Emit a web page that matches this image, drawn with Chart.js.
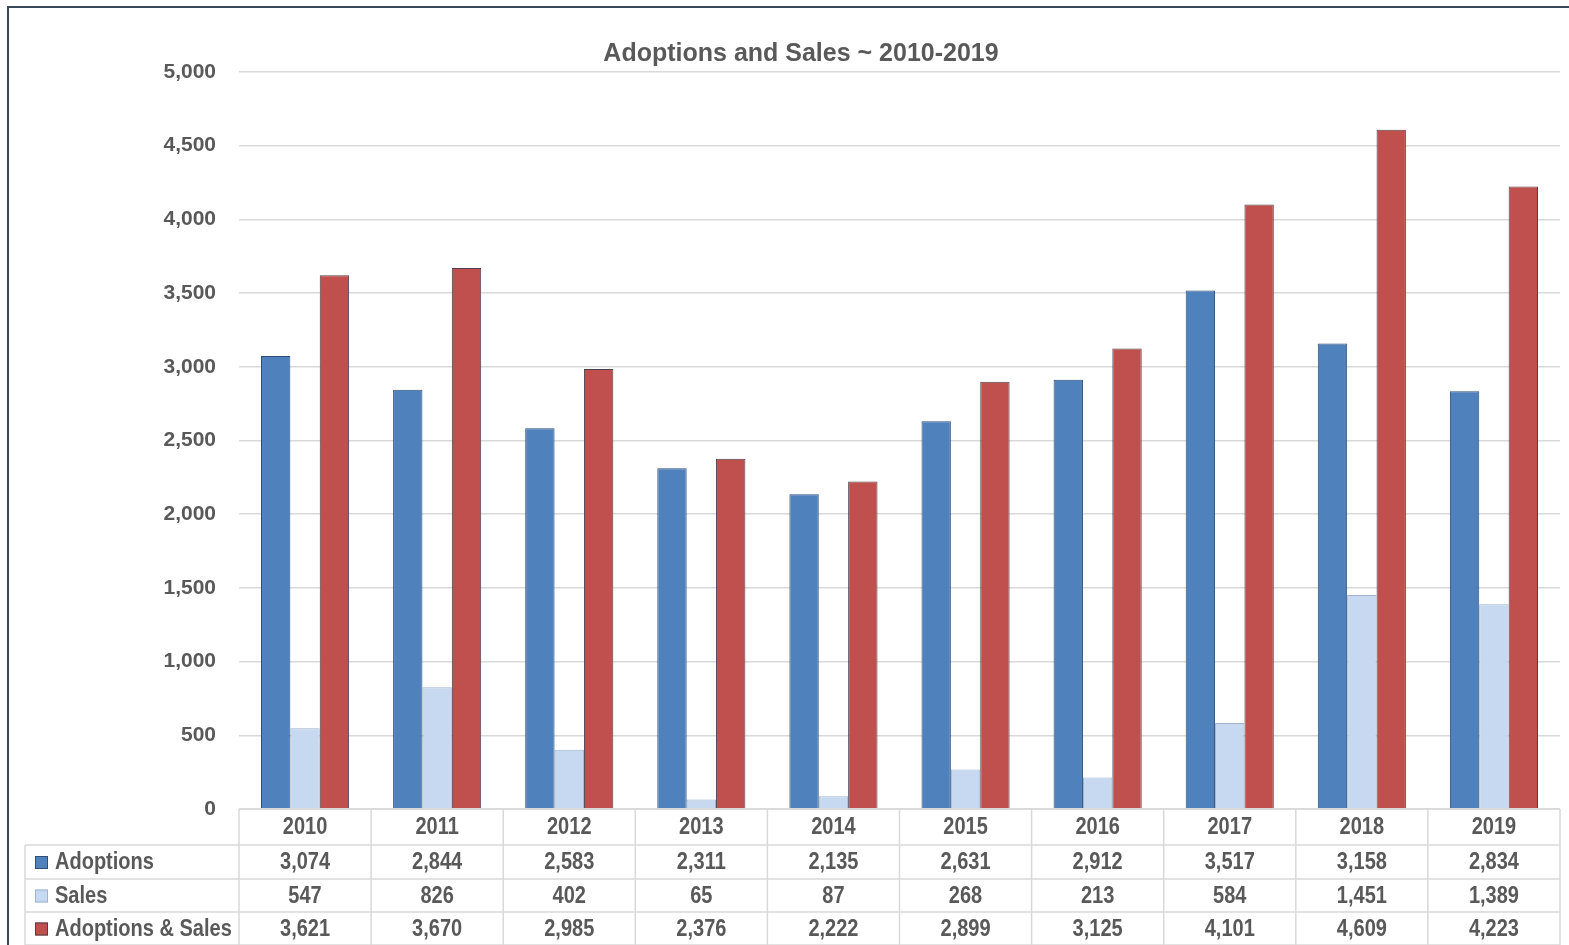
<!DOCTYPE html>
<html>
<head>
<meta charset="utf-8">
<script src="https://cdn.jsdelivr.net/npm/chart.js@4/dist/chart.umd.min.js"></script>
<style>
    html, body { margin: 0; padding: 0; background: #fff; overflow: hidden; }
    #frame { position: absolute; left: 7px; top: 6px; width: 1580px; height: 960px; border: 2px solid #3b4a5a; box-sizing: border-box; }
    #wrap { position: absolute; left: 0; top: 0; width: 1569px; height: 945px; }
</style>
</head>
<body>
<div id="frame"></div>
<div id="wrap"><canvas id="chart" width="1569" height="945"></canvas></div>
<script>
const years = ["2010", "2011", "2012", "2013", "2014", "2015", "2016", "2017", "2018", "2019"];
const adoptions = [3074, 2844, 2583, 2311, 2135, 2631, 2912, 3517, 3158, 2834];
const sales = [547, 826, 402, 65, 87, 268, 213, 584, 1451, 1389];
const adoptionsAndSales = [3621, 3670, 2985, 2376, 2222, 2899, 3125, 4101, 4609, 4223];
const seriesNames = ["Adoptions", "Sales", "Adoptions & Sales"];

const textColor = "#595959";
const gridColor = "#d9d9d9";
const fontFamily = "'Liberation Sans', Arial, sans-serif";

// draw text squeezed horizontally, the reference uses a narrow face
function narrowText(ctx, text, x, y, align) {
    const squeeze = 0.87;
    ctx.save();
    ctx.translate(x, y);
    ctx.scale(squeeze, 1);
    ctx.textAlign = align;
    ctx.fillText(text, 0, 0);
    ctx.restore();
}

// data table drawn under the plot, lined up with the x scale
const dataTablePlugin = {
    id: "dataTable",
    afterDraw(chart) {
        const ctx = chart.ctx;
        const x = chart.scales.x;
        const area = chart.chartArea;
        const rows = [adoptions, sales, adoptionsAndSales];
        const top = area.bottom;
        const rowEdges = [top, top + 36, top + 70, top + 103, top + 136];
        const labelLeft = 25;
        const step = x.getPixelForValue(1) - x.getPixelForValue(0);

        ctx.save();
        ctx.strokeStyle = gridColor;
        ctx.lineWidth = 1.5;

        // horizontal lines
        ctx.beginPath();
        ctx.moveTo(area.left, rowEdges[0]);
        ctx.lineTo(area.right, rowEdges[0]);
        for (let i = 1; i < rowEdges.length; i++) {
            ctx.moveTo(labelLeft, rowEdges[i]);
            ctx.lineTo(area.right, rowEdges[i]);
        }
        // vertical lines
        for (let i = 0; i <= years.length; i++) {
            const px = x.getPixelForValue(i) - step / 2;
            ctx.moveTo(px, rowEdges[0]);
            ctx.lineTo(px, rowEdges[4]);
        }
        ctx.moveTo(labelLeft, rowEdges[1]);
        ctx.lineTo(labelLeft, rowEdges[4]);
        ctx.stroke();

        ctx.fillStyle = textColor;
        ctx.font = "bold 23px " + fontFamily;
        ctx.textBaseline = "middle";

        // header row with years
        years.forEach((year, i) => {
            narrowText(ctx, year, x.getPixelForValue(i), (rowEdges[0] + rowEdges[1]) / 2 + 1, "center");
        });

        // value rows
        rows.forEach((values, r) => {
            const cy = (rowEdges[r + 1] + rowEdges[r + 2]) / 2 + 1;
            ctx.fillStyle = textColor;
            values.forEach((v, i) => {
                narrowText(ctx, v.toLocaleString("en-US"), x.getPixelForValue(i), cy, "center");
            });
            // legend key + series name
            const ds = chart.data.datasets[r];
            ctx.fillStyle = ds.backgroundColor;
            ctx.fillRect(35, cy - 7, 13, 13);
            ctx.strokeStyle = ds.borderColor;
            ctx.lineWidth = 1;
            ctx.strokeRect(35.5, cy - 6.5, 12, 12);
            ctx.fillStyle = textColor;
            narrowText(ctx, seriesNames[r], 55, cy, "left");
        });
        ctx.restore();
    }
};

new Chart(document.getElementById("chart"), {
    type: "bar",
    data: {
        labels: years,
        datasets: [
            {
                label: seriesNames[0],
                data: adoptions,
                backgroundColor: "#4f81bd",
                borderColor: "#2f4d75",
                borderWidth: 1,
            },
            {
                label: seriesNames[1],
                data: sales,
                backgroundColor: "#c6d9f1",
                borderColor: "#9fb3cc",
                borderWidth: 1,
            },
            {
                label: seriesNames[2],
                data: adoptionsAndSales,
                backgroundColor: "#c0504d",
                borderColor: "#4e3f4e",
                borderWidth: 1,
            },
        ],
    },
    options: {
        responsive: false,
        animation: false,
        layout: {
            // left padding pushes the title centre right, like the reference
            padding: { left: 42, right: 9, top: 0, bottom: 136 },
        },
        datasets: {
            bar: {
                barPercentage: 1,
                categoryPercentage: 0.667,
            },
        },
        plugins: {
            legend: { display: false },
            tooltip: { enabled: false },
            title: {
                display: true,
                text: "Adoptions and Sales ~ 2010-2019",
                color: textColor,
                font: { family: fontFamily, size: 25, weight: "bold" },
                padding: { top: 39, bottom: 3 },
            },
        },
        scales: {
            x: {
                display: false,
            },
            y: {
                min: 0,
                max: 5000,
                afterFit: function (scale) {
                    scale.width = 197;
                },
                border: { display: false },
                grid: {
                    color: gridColor,
                    lineWidth: 1.5,
                    drawTicks: false,
                },
                ticks: {
                    stepSize: 500,
                    padding: 23,
                    color: textColor,
                    font: { family: fontFamily, size: 21, weight: "bold" },
                    callback: function (value) {
                        return value.toLocaleString("en-US");
                    },
                },
            },
        },
    },
    plugins: [dataTablePlugin],
});
</script>
</body>
</html>
